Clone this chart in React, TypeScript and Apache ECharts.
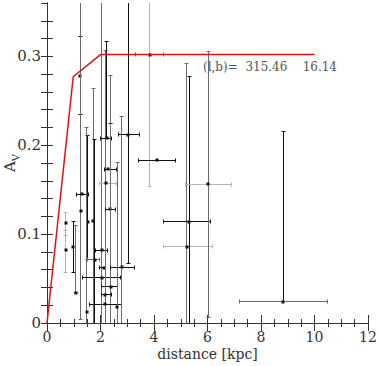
import React, { useEffect, useRef } from "react";
import * as echarts from "echarts";

// Red model curve: extinction vs distance
const modelDistance = [0, 0.98, 2.0, 10.0];
const modelAv = [0, 0.277, 0.302, 0.302];

// Measurements: [distance, Av, dLo, dHi, AvLo, AvHi, verticalShade, horizontalShade]
// (dLo = dHi = distance means no horizontal bar; shade 0 black, 1 grey, 2 pale)
const measurements: number[][] = [
  [0.71, 0.112, 0.71, 0.71, 0.098, 0.124, 2, 0],
  [0.71, 0.082, 0.71, 0.71, 0.057, 0.104, 2, 0],
  [0.98, 0.085, 0.98, 0.98, 0.057, 0.114, 0, 0],
  [1.08, 0.034, 1.08, 1.08, 0.034, 0.110, 1, 0],
  [1.25, 0.278, 1.25, 1.25, 0.234, 0.322, 0, 0],
  [1.27, 0.126, 1.27, 1.27, 0.004, 0.38, 1, 0],
  [1.30, 0.145, 1.10, 1.54, 0.145, 0.145, 0, 0],
  [1.52, 0.114, 1.52, 1.52, 0.071, 0.211, 0, 0],
  [1.48, 0.012, 1.48, 1.48, 0.0, 0.220, 1, 0],
  [1.73, 0.115, 1.73, 1.73, 0.0, 0.264, 1, 0],
  [1.79, 0.071, 1.51, 1.98, 0.0, 0.206, 0, 1],
  [2.04, 0.051, 1.34, 2.76, 0.0, 0.38, 1, 0],
  [2.04, 0.082, 1.83, 2.27, 0.082, 0.082, 0, 0],
  [2.12, 0.062, 1.96, 2.17, 0.062, 0.062, 0, 0],
  [2.20, 0.157, 1.96, 2.61, 0.0, 0.307, 1, 2],
  [2.23, 0.208, 2.01, 2.42, 0.208, 0.317, 0, 0],
  [2.29, 0.173, 2.14, 2.61, 0.173, 0.173, 0, 0],
  [2.36, 0.128, 2.17, 2.56, 0.0, 0.224, 0, 0],
  [2.38, 0.041, 2.04, 2.63, 0.0, 0.278, 1, 0],
  [2.15, 0.032, 2.05, 2.42, 0.032, 0.032, 0, 0],
  [2.17, 0.021, 1.59, 2.80, 0.021, 0.021, 0, 0],
  [2.63, 0.018, 2.63, 2.63, 0.0, 0.181, 1, 0],
  [2.79, 0.063, 2.36, 3.26, 0.0, 0.232, 1, 0],
  [3.04, 0.212, 2.67, 3.45, 0.067, 0.38, 0, 0],
  [3.85, 0.302, 3.29, 4.34, 0.154, 0.38, 2, 1],
  [4.10, 0.183, 3.41, 4.79, 0.183, 0.183, 0, 0],
  [5.22, 0.086, 4.35, 6.20, 0.0, 0.292, 1, 2],
  [5.32, 0.114, 4.35, 6.12, 0.0, 0.277, 0, 0],
  [6.03, 0.156, 5.16, 6.88, 0.006, 0.306, 1, 2],
  [8.84, 0.024, 7.21, 10.49, 0.024, 0.216, 0, 1],
];

const xTickLabels = ["0", "2", "4", "6", "8", "10", "12"];
const yTickLabels = ["0", "0.1", "0.2", "0.3"];
const annotation = "(l,b)=  315.46    16.14";

const shades = ["#111111", "#6a6a6a", "#b4b4b4"];
const FONT = "DejaVu Serif";

export default function App() {
  const ref = useRef<HTMLDivElement>(null);
  useEffect(() => {
    if (!ref.current) return;
    const chart = echarts.init(ref.current, undefined, { renderer: "svg" });
    const crisp = (v: number) => Math.round(v - 0.5) + 0.5;

    const renderItem = (params: any, api: any) => {
      const x = api.value(0), y = api.value(1);
      const xl = api.value(2), xh = api.value(3);
      const yl = api.value(4), yh = api.value(5);
      const vs = shades[api.value(6)], hs = shades[api.value(7)];
      const c = api.coord([x, y]);
      const children: any[] = [];
      const cap = 2;
      if (yh > yl) {
        const a = api.coord([x, yl]);
        const b = api.coord([x, yh]);
        const px = crisp(a[0]);
        children.push({ type: "line", shape: { x1: px, y1: a[1], x2: px, y2: b[1] }, style: { stroke: vs, lineWidth: 1 } });
        children.push({ type: "line", shape: { x1: px - cap, y1: crisp(a[1]), x2: px + cap, y2: crisp(a[1]) }, style: { stroke: vs, lineWidth: 1 } });
        children.push({ type: "line", shape: { x1: px - cap, y1: crisp(b[1]), x2: px + cap, y2: crisp(b[1]) }, style: { stroke: vs, lineWidth: 1 } });
      }
      if (xh > xl) {
        const a = api.coord([xl, y]);
        const b = api.coord([xh, y]);
        const py = crisp(a[1]);
        children.push({ type: "line", shape: { x1: a[0], y1: py, x2: b[0], y2: py }, style: { stroke: hs, lineWidth: 1 } });
        children.push({ type: "line", shape: { x1: crisp(a[0]), y1: py - cap, x2: crisp(a[0]), y2: py + cap }, style: { stroke: hs, lineWidth: 1 } });
        children.push({ type: "line", shape: { x1: crisp(b[0]), y1: py - cap, x2: crisp(b[0]), y2: py + cap }, style: { stroke: hs, lineWidth: 1 } });
      }
      children.push({ type: "rect", shape: { x: Math.round(c[0]) - 1.5, y: Math.round(c[1]) - 1.5, width: 3, height: 3 }, style: { fill: "#111" } });
      return { type: "group", children };
    };

    const axisCommon = {
      axisLine: { show: true, lineStyle: { color: "#333", width: 1 } },
      splitLine: { show: false },
    };

    chart.setOption({
      animation: false,
      backgroundColor: "#fff",
      grid: { left: 47, right: 12, top: 3, bottom: 43, containLabel: false, outerBoundsMode: "none" },
      xAxis: [
        {
          type: "value", min: 0, max: 12, interval: 2, position: "bottom",
          ...axisCommon,
          axisTick: { inside: true, length: 8, lineStyle: { color: "#333" } },
          minorTick: { show: true, splitNumber: 4, length: 4, lineStyle: { color: "#333" } },
          axisLabel: {
            margin: 7, color: "#333", fontFamily: FONT, fontSize: 14,
            formatter: (v: number) => xTickLabels[Math.round(v / 2)] ?? "",
          },
          name: "distance [kpc]", nameLocation: "middle", nameGap: 24, nameMoveOverlap: false,
          nameTextStyle: { color: "#333", fontFamily: FONT, fontSize: 14, verticalAlign: "top" },
        },
        {
          type: "value", min: 0, max: 12, interval: 2, position: "top",
          ...axisCommon,
          axisTick: { inside: true, length: 8, lineStyle: { color: "#333" } },
          minorTick: { show: true, splitNumber: 4, length: 4, lineStyle: { color: "#333" } },
          axisLabel: { show: false },
        },
      ],
      yAxis: [
        {
          type: "value", min: 0, max: 0.36, interval: 0.02, position: "left",
          ...axisCommon,
          axisTick: { inside: true, length: 6, interval: 0, lineStyle: { color: "#333" } },
          axisLabel: {
            margin: 6, color: "#333", fontFamily: FONT, fontSize: 15, interval: 0,
            showMaxLabel: false,
            formatter: (v: number) => {
              const k = Math.round(v * 10);
              if (Math.abs(v * 10 - k) > 1e-6) return "";
              return yTickLabels[k] ?? "";
            },
          },
          name: "{a|A}{v|V}", nameLocation: "middle", nameRotate: 90, nameGap: 27, nameMoveOverlap: false,
          nameTextStyle: {
            color: "#333", fontFamily: FONT,
            rich: {
              a: { fontFamily: FONT, fontSize: 15, lineHeight: 18, color: "#333", verticalAlign: "top" },
              v: { fontFamily: FONT, fontSize: 10, lineHeight: 10, color: "#333", verticalAlign: "top", padding: [8, 0, 0, 0] },
            },
          },
        },
        {
          type: "value", min: 0, max: 0.36, interval: 0.02, position: "right",
          ...axisCommon,
          axisTick: { inside: true, length: 6, interval: 0, lineStyle: { color: "#333" } },
          axisLabel: { show: false },
        },
      ],
      graphic: [
        {
          type: "text", x: 203, y: 67,
          style: { text: annotation, fontFamily: FONT, fontSize: 12, fill: "#555", align: "left", verticalAlign: "middle" },
        },
      ],
      series: [
        {
          type: "custom", xAxisIndex: 0, yAxisIndex: 0, clip: true,
          renderItem,
          data: measurements,
          z: 2,
        },
        {
          type: "line", xAxisIndex: 0, yAxisIndex: 0,
          data: modelDistance.map((d, i) => [d, modelAv[i]]),
          symbol: "none",
          lineStyle: { color: "#e01010", width: 1.5 },
          z: 3,
        },
      ],
    });
    return () => chart.dispose();
  }, []);
  return <div ref={ref} style={{ width: 380, height: 366, position: "absolute", left: 0, top: 0 }} />;
}
